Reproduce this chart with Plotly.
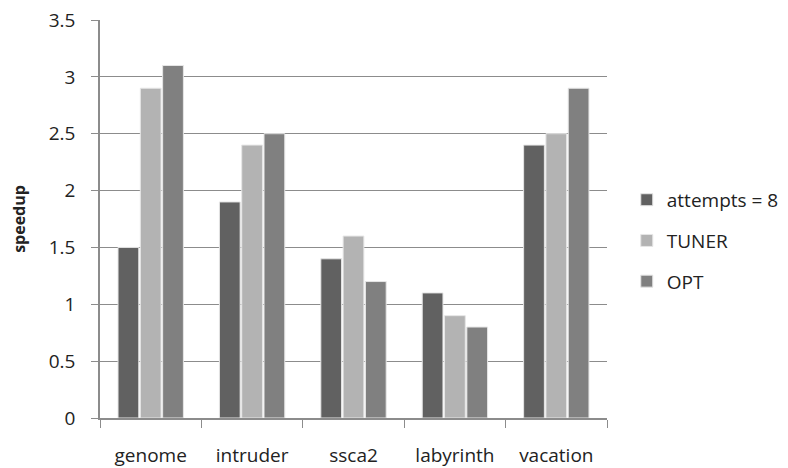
import plotly.graph_objects as go

categories = ["genome", "intruder", "ssca2", "labyrinth", "vacation"]
attempts8 = [1.5, 1.9, 1.4, 1.1, 2.4]
tuner = [2.9, 2.4, 1.6, 0.9, 2.5]
opt = [3.1, 2.5, 1.2, 0.8, 2.9]
y_ticks = [0, 0.5, 1, 1.5, 2, 2.5, 3, 3.5]
y_labels = ["0", "0.5", "1", "1.5", "2", "2.5", "3", "3.5"]

series = [("attempts = 8", attempts8, "#616161"),
          ("TUNER", tuner, "#b3b3b3"),
          ("OPT", opt, "#808080")]

fig = go.Figure()
for name, vals, col in series:
    fig.add_trace(go.Bar(x=categories, y=vals, name=name, legendgroup=name,
                         marker=dict(color=col, line=dict(color="#e6e6e6", width=1))))

grid = "#8c8c8c"
font = "Open Sans, Liberation Sans, sans-serif"
fig.update_layout(
    width=788, height=468,
    margin=dict(l=92, r=185, t=12, b=58),
    paper_bgcolor="white", plot_bgcolor="white",
    barmode="group", bargap=0.34, bargroupgap=0.07,
    font=dict(family=font, size=19, color="#222222"),
    legend=dict(x=1.039, y=0.445, yanchor="middle", xanchor="left",
                font=dict(size=19), itemwidth=30, tracegroupgap=13,
                bgcolor="rgba(0,0,0,0)"),
    xaxis=dict(showgrid=False, showline=True, linecolor=grid, linewidth=1.5,
               ticks="outside", tickson="boundaries", ticklen=8, tickcolor=grid,
               tickfont=dict(size=19), zeroline=False, ticklabelstandoff=19,
               automargin=False),
    yaxis=dict(range=[0, 3.5], tickvals=y_ticks, ticktext=y_labels,
               showgrid=True, gridcolor=grid, gridwidth=1.2,
               showline=True, linecolor=grid, linewidth=1.5,
               ticks="outside", ticklen=7, tickcolor=grid,
               tickfont=dict(size=19), zeroline=False, ticklabelstandoff=12,
               ticklabeloverflow="allow", automargin=False,
               title=dict(text="<b>speedup</b>", font=dict(size=16), standoff=22)),
)
fig.write_html("out.html")
